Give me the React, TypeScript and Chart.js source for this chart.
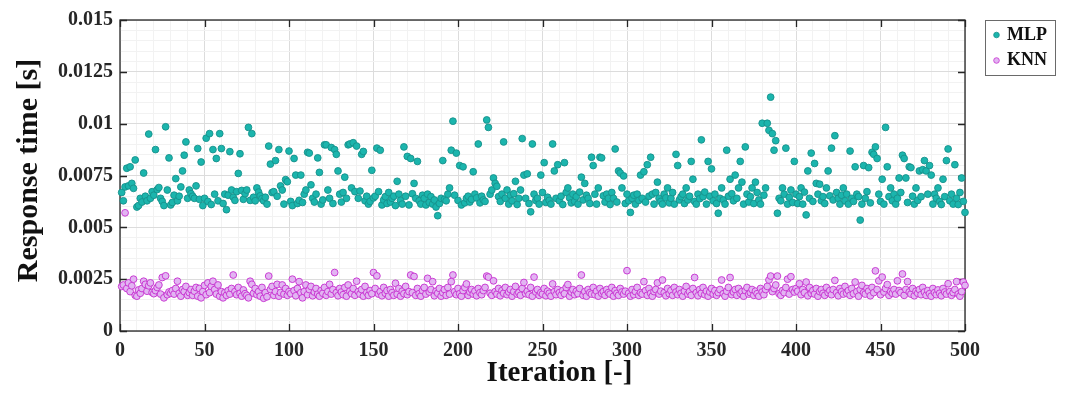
import { useEffect, useRef } from 'react';
import { Chart, registerables } from 'chart.js';

Chart.register(...registerables);

// Response times in units of 1e-5 s, iteration 1..500
const mlpTimes = [
  668, 628, 695, 785, 700, 792, 712, 688, 825, 598,
  605, 640, 622, 762, 650, 628, 950, 640, 672, 655,
  875, 682, 692, 640, 625, 605, 985, 680, 835, 608,
  620, 655, 735, 628, 650, 695, 772, 848, 912, 640,
  680, 662, 650, 640, 700, 880, 635, 815, 605, 640,
  930, 625, 952, 610, 875, 660, 832, 628, 952, 880,
  615, 660, 585, 655, 865, 680, 645, 630, 672, 760,
  855, 678, 635, 662, 680, 982, 630, 952, 645, 628,
  690, 670, 652, 638, 628, 645, 612, 892, 805, 668,
  672, 822, 650, 875, 700, 680, 612, 730, 720, 868,
  625, 605, 832, 752, 615, 630, 752, 620, 660, 680,
  862, 858, 705, 640, 622, 660, 835, 765, 612, 632,
  898, 898, 680, 640, 885, 615, 875, 852, 772, 660,
  622, 668, 742, 640, 898, 902, 690, 908, 672, 892,
  640, 675, 852, 866, 628, 650, 612, 625, 775, 642,
  650, 882, 672, 872, 608, 632, 648, 615, 668, 622,
  640, 650, 605, 722, 660, 630, 612, 888, 650, 842,
  608, 832, 662, 712, 640, 818, 628, 612, 655, 640,
  608, 660, 620, 648, 612, 632, 598, 556, 615, 640,
  822, 635, 628, 660, 690, 872, 1012, 655, 858, 630,
  798, 608, 792, 618, 640, 650, 622, 635, 768, 660,
  642, 902, 618, 650, 632, 625, 1018, 982, 660, 680,
  738, 712, 698, 648, 625, 660, 912, 640, 680, 612,
  655, 628, 662, 722, 610, 640, 680, 928, 752, 640,
  758, 615, 575, 902, 660, 630, 640, 612, 752, 668,
  812, 620, 645, 630, 612, 902, 772, 640, 802, 628,
  650, 610, 812, 668, 690, 642, 618, 660, 625, 648,
  612, 670, 742, 632, 712, 655, 640, 615, 838, 798,
  660, 612, 690, 838, 835, 652, 622, 660, 640, 610,
  668, 640, 878, 622, 772, 762, 690, 748, 615, 660,
  628, 572, 640, 655, 612, 660, 630, 752, 640, 768,
  622, 802, 650, 838, 660, 612, 668, 718, 640, 625,
  612, 660, 642, 690, 618, 640, 668, 612, 852, 798,
  632, 648, 660, 615, 690, 632, 650, 818, 732, 625,
  612, 660, 638, 922, 648, 670, 612, 818, 650, 782,
  628, 660, 615, 568, 640, 690, 632, 612, 872, 650,
  732, 662, 628, 752, 640, 690, 818, 718, 612, 888,
  660, 622, 648, 690, 615, 718, 668, 632, 612, 1002,
  655, 690, 1002, 968, 1128, 952, 872, 918, 568, 640,
  628, 690, 660, 882, 612, 645, 680, 620, 818, 660,
  615, 648, 690, 612, 670, 560, 772, 640, 858, 625,
  808, 712, 660, 708, 628, 648, 615, 690, 772, 652,
  882, 632, 942, 668, 640, 612, 655, 690, 628, 660,
  612, 868, 640, 625, 792, 660, 648, 535, 612, 798,
  640, 672, 788, 618, 862, 852, 888, 832, 660, 625,
  732, 612, 982, 792, 648, 690, 628, 660, 612, 640,
  738, 668, 848, 832, 738, 620, 792, 788, 650, 612,
  690, 630, 772, 648, 778, 822, 772, 660, 798, 752,
  612, 660, 640, 690, 625, 610, 732, 648, 822, 878,
  628, 660, 612, 802, 640, 610, 668, 738, 625, 572,
];

const knnTimes = [
  215, 222, 570, 205, 232, 190, 218, 250, 172, 168,
  198, 182, 205, 240, 225, 192, 218, 232, 186, 180,
  195, 210, 222, 178, 258, 160, 266, 175, 188, 182,
  195, 178, 205, 240, 182, 168, 200, 190, 215, 172,
  185, 200, 172, 192, 210, 168, 205, 160, 190, 220,
  175, 232, 185, 215, 240, 200, 178, 222, 168, 190,
  160, 185, 172, 195, 178, 205, 270, 190, 175, 210,
  182, 168, 198, 180, 172, 160, 240, 225, 182, 205,
  175, 190, 168, 210, 158, 185, 165, 265, 200, 215,
  172, 190, 225, 168, 185, 222, 178, 205, 172, 190,
  180, 250, 195, 170, 205, 238, 185, 160, 190, 222,
  175, 200, 215, 170, 188, 205, 178, 168, 195, 182,
  210, 172, 190, 225, 178, 200, 282, 185, 170, 205,
  188, 175, 210, 168, 222, 192, 180, 205, 172, 240,
  190, 178, 200, 168, 215, 185, 172, 195, 180, 282,
  205, 266, 178, 190, 170, 210, 182, 195, 168, 200,
  185, 172, 230, 178, 205, 168, 192, 180, 215, 175,
  190, 270, 185, 263, 172, 205, 180, 168, 195, 210,
  178, 254, 188, 200, 238, 170, 192, 182, 205, 168,
  185, 200, 172, 210, 178, 238, 270, 190, 175, 205,
  180, 168, 195, 210, 227, 172, 188, 200, 178, 192,
  170, 205, 185, 175, 195, 210, 265, 260, 182, 172,
  242, 190, 178, 205, 170, 195, 182, 210, 175, 188,
  200, 168, 190, 215, 178, 185, 172, 205, 234, 180,
  192, 175, 210, 168, 260, 188, 200, 172, 185, 178,
  205, 170, 192, 182, 168, 227, 190, 175, 200, 185,
  172, 195, 180, 210, 224, 168, 188, 200, 175, 192,
  180, 205, 270, 172, 190, 168, 200, 185, 178, 210,
  175, 192, 168, 205, 182, 190, 172, 200, 185, 178,
  210, 168, 195, 182, 172, 205, 188, 178, 192, 291,
  182, 168, 200, 175, 190, 210, 172, 185, 178, 238,
  195, 172, 205, 182, 168, 190, 200, 232, 178, 192,
  246, 185, 170, 205, 180, 195, 172, 210, 188, 175,
  200, 182, 168, 192, 215, 178, 190, 172, 205, 258,
  185, 170, 200, 182, 210, 175, 192, 168, 188, 205,
  178, 195, 172, 185, 200, 246, 180, 168, 192, 210,
  258, 175, 188, 200, 172, 205, 182, 190, 168, 195,
  210, 178, 185, 200, 172, 192, 180, 168, 205, 188,
  175, 200, 215, 246, 265, 190, 205, 222, 265, 180,
  172, 195, 185, 210, 250, 178, 262, 200, 188, 205,
  192, 228, 175, 200, 185, 236, 170, 210, 182, 195,
  178, 205, 168, 190, 200, 182, 172, 210, 185, 195,
  175, 200, 244, 185, 170, 205, 190, 178, 215, 182,
  195, 172, 205, 180, 236, 190, 168, 200, 220, 185,
  178, 205, 192, 170, 210, 185, 290, 200, 242, 175,
  260, 188, 205, 224, 172, 190, 182, 200, 178, 242,
  195, 185, 275, 172, 200, 238, 188, 178, 205, 170,
  192, 182, 200, 175, 210, 188, 172, 195, 180, 168,
  205, 185, 175, 198, 182, 170, 205, 188, 178, 228,
  190, 172, 185, 200, 238, 178, 168, 190, 236, 220,
];

const seriesNames = ['MLP', 'KNN'];
const xTickLabels = ['0', '50', '100', '150', '200', '250', '300', '350', '400', '450', '500'];
const yTickLabels = ['0', '0.0025', '0.005', '0.0075', '0.01', '0.0125', '0.015'];
const xMajorStep = 50;
const xMinorStep = 10;
const yMajorStep = 0.0025;
const yMinorStep = 0.0005;

const FONT = "'Liberation Serif', 'Times New Roman', serif";
const TEXT = '#262626';
const MLP_FILL = '#1bb5ad';
const MLP_EDGE = '#16918b';
const KNN_FILL = '#e2b4f2';
const KNN_EDGE = '#c62fcf';

const CANVAS_W = 1052;
const CANVAS_H = 378;

const toPoints = (arr: number[]) => arr.map((v, i) => ({ x: i + 1, y: v / 100000 }));

const isMajor = (v: number, step: number) => Math.abs(v / step - Math.round(v / step)) < 1e-6;

const framePlugin = {
  id: 'frame',
  beforeDatasetsDraw(chart: any) {
    const { ctx, chartArea: a, scales } = chart;
    ctx.save();
    ctx.strokeStyle = TEXT;
    ctx.lineWidth = 1.3;
    ctx.strokeRect(a.left, a.top, a.right - a.left, a.bottom - a.top);
    const tl = 7;
    ctx.beginPath();
    scales.x.ticks.forEach((t: any) => {
      if (!isMajor(t.value, xMajorStep)) return;
      const px = Math.round(scales.x.getPixelForValue(t.value)) + 0.5;
      ctx.moveTo(px, a.bottom);
      ctx.lineTo(px, a.bottom - tl);
      ctx.moveTo(px, a.top);
      ctx.lineTo(px, a.top + tl);
    });
    scales.y.ticks.forEach((t: any) => {
      if (!isMajor(t.value, yMajorStep)) return;
      const py = Math.round(scales.y.getPixelForValue(t.value)) + 0.5;
      ctx.moveTo(a.left, py);
      ctx.lineTo(a.left + tl, py);
      ctx.moveTo(a.right, py);
      ctx.lineTo(a.right - tl, py);
    });
    ctx.stroke();
    ctx.restore();
  },
  afterDraw(chart: any) {
    const { ctx, chartArea: a } = chart;
    ctx.save();
    ctx.fillStyle = '#111';
    // axis titles
    ctx.font = `bold 30px ${FONT}`;
    ctx.textAlign = 'center';
    ctx.textBaseline = 'middle';
    ctx.save();
    ctx.translate(21, (a.top + a.bottom) / 2 - 5);
    ctx.rotate(-Math.PI / 2);
    ctx.fillText('Response time [s]', 0, 0);
    ctx.restore();
    ctx.font = `bold 29px ${FONT}`;
    ctx.textBaseline = 'alphabetic';
    ctx.fillText('Iteration [-]', (a.left + a.right) / 2 + 17, 373);

    // legend box
    const lx = a.right + 20.5;
    const ly = a.top + 0.5;
    const lw = 70;
    const lh = 55;
    ctx.fillStyle = '#fff';
    ctx.fillRect(lx, ly, lw, lh);
    ctx.strokeStyle = '#6a6a6a';
    ctx.lineWidth = 1;
    ctx.strokeRect(lx, ly, lw, lh);
    const ds = chart.data.datasets;
    ds.forEach((d: any, i: number) => {
      const cy = ly + 14.5 + i * 25.5;
      ctx.beginPath();
      ctx.arc(lx + 11, cy, 2.8, 0, Math.PI * 2);
      ctx.fillStyle = d.backgroundColor;
      ctx.fill();
      ctx.strokeStyle = d.borderColor;
      ctx.lineWidth = 0.8;
      ctx.stroke();
      ctx.fillStyle = '#111';
      ctx.font = `bold 18px ${FONT}`;
      ctx.textAlign = 'left';
      ctx.textBaseline = 'middle';
      ctx.fillText(d.label, lx + 21.5, cy);
    });
    ctx.restore();
  },
};

export default function App() {
  const ref = useRef<HTMLCanvasElement>(null);

  useEffect(() => {
    if (!ref.current) return;
    const xVals: number[] = [];
    for (let v = 0; v <= 500 + 1e-9; v += xMinorStep) xVals.push(v);
    const yVals: number[] = [];
    for (let k = 0; k <= 30; k++) yVals.push(Math.round(k * yMinorStep * 1e6) / 1e6);

    const chart = new Chart(ref.current, {
      type: 'scatter',
      data: {
        datasets: [
          {
            label: seriesNames[0],
            data: toPoints(mlpTimes),
            backgroundColor: MLP_FILL,
            borderColor: MLP_EDGE,
            borderWidth: 0.9,
            pointRadius: 3.4,
            pointHoverRadius: 3.4,
            clip: false as any,
          },
          {
            label: seriesNames[1],
            data: toPoints(knnTimes),
            backgroundColor: KNN_FILL,
            borderColor: KNN_EDGE,
            borderWidth: 0.9,
            pointRadius: 3.4,
            pointHoverRadius: 3.4,
            clip: false as any,
          },
        ],
      },
      options: {
        animation: false,
        responsive: false,
        maintainAspectRatio: false,
        layout: { padding: { top: 12, right: 95, left: 0, bottom: 0 } },
        plugins: {
          legend: { display: false },
          tooltip: { enabled: false },
        },
        scales: {
          x: {
            type: 'linear',
            min: 0,
            max: 500,
            afterBuildTicks: (scale: any) => {
              scale.ticks = xVals.map((v) => ({ value: v }));
            },
            afterFit: (scale: any) => {
              scale.height = CANVAS_H - 323;
              scale.paddingLeft = 0;
              scale.paddingRight = 0;
            },
            border: { display: false },
            grid: {
              drawTicks: false,
              color: (ctx: any) =>
                ctx.tick && isMajor(ctx.tick.value, xMajorStep) ? '#dcdcdc' : '#f2f2f2',
              lineWidth: 1,
            },
            ticks: {
              autoSkip: false,
              maxRotation: 0,
              padding: 8,
              color: TEXT,
              font: { family: FONT, size: 20, weight: 'bold' },
              callback: (value: any) => {
                const v = Number(value);
                if (!isMajor(v, xMajorStep)) return '';
                return xTickLabels[Math.round(v / xMajorStep)] ?? '';
              },
            },
          },
          y: {
            type: 'linear',
            min: 0,
            max: 0.015,
            afterBuildTicks: (scale: any) => {
              scale.ticks = yVals.map((v) => ({ value: v }));
            },
            afterFit: (scale: any) => {
              scale.width = 112;
              scale.paddingTop = 0;
              scale.paddingBottom = 0;
            },
            border: { display: false },
            grid: {
              drawTicks: false,
              color: (ctx: any) =>
                ctx.tick && isMajor(ctx.tick.value, yMajorStep) ? '#dcdcdc' : '#f2f2f2',
              lineWidth: 1,
            },
            ticks: {
              autoSkip: false,
              padding: 7,
              color: TEXT,
              font: { family: FONT, size: 20, weight: 'bold' },
              callback: (value: any) => {
                const v = Number(value);
                if (!isMajor(v, yMajorStep)) return '';
                return yTickLabels[Math.round(v / yMajorStep)] ?? '';
              },
            },
          },
        },
      },
      plugins: [framePlugin],
    });
    return () => chart.destroy();
  }, []);

  return (
    <div style={{ width: CANVAS_W, height: CANVAS_H }}>
      <canvas
        ref={ref}
        width={CANVAS_W}
        height={CANVAS_H}
        style={{ display: 'block', width: CANVAS_W, height: CANVAS_H }}
      />
    </div>
  );
}
